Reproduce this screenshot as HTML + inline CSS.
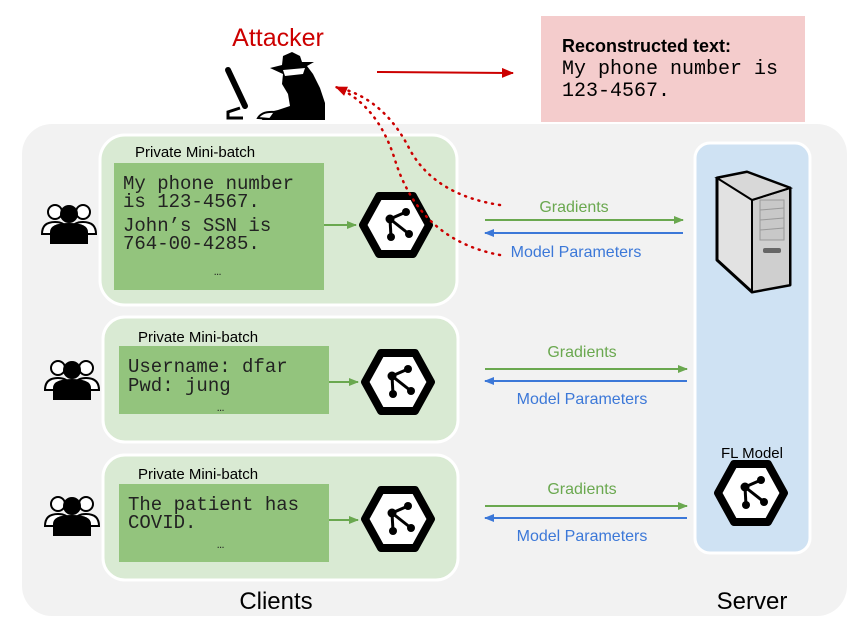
<!DOCTYPE html>
<html><head><meta charset="utf-8"><style>
html,body{margin:0;padding:0;background:#fff;}
svg{display:block;font-family:"Liberation Sans",sans-serif;}
.mono{font-family:"Liberation Mono",monospace;}
</style></head><body>
<svg width="847" height="622" viewBox="0 0 847 622" xmlns="http://www.w3.org/2000/svg">
<defs>
<marker id="ag" markerWidth="10" markerHeight="8" refX="9" refY="4" orient="auto" markerUnits="userSpaceOnUse"><path d="M0,0 L10,4 L0,8z" fill="#6aa84f"/></marker>
<marker id="ab" markerWidth="10" markerHeight="8" refX="9" refY="4" orient="auto" markerUnits="userSpaceOnUse"><path d="M0,0 L10,4 L0,8z" fill="#3c78d8"/></marker>
<marker id="ar" markerWidth="12" markerHeight="10" refX="11" refY="5" orient="auto" markerUnits="userSpaceOnUse"><path d="M0,0 L12,5 L0,10z" fill="#cc0000"/></marker>
<g id="hex">
<polygon points="-33,0 -17,-29 17,-29 33,0 17,29 -17,29" fill="#fff" stroke="#000" stroke-width="8" stroke-linejoin="round"/>
<line x1="-6" y1="-6" x2="10" y2="-13" stroke="#000" stroke-width="3"/>
<line x1="-6" y1="-6" x2="-5" y2="12" stroke="#000" stroke-width="3"/>
<line x1="-6" y1="-6" x2="13" y2="9" stroke="#000" stroke-width="3"/>
<circle cx="-6" cy="-6" r="4.5"/><circle cx="10" cy="-13" r="4"/><circle cx="-5" cy="12" r="4"/><circle cx="13" cy="9" r="4"/>
</g>
<g id="users">
<circle cx="-14" cy="-12" r="7" fill="#fff" stroke="#000" stroke-width="2"/>
<circle cx="14" cy="-12" r="7" fill="#fff" stroke="#000" stroke-width="2"/>
<path d="M-27,10 Q-27,-2 -14,-2 Q-5,-2 -3,4 L-3,10z" fill="#fff" stroke="#000" stroke-width="2"/>
<path d="M27,10 Q27,-2 14,-2 Q5,-2 3,4 L3,10z" fill="#fff" stroke="#000" stroke-width="2"/>
<circle cx="0" cy="-10" r="9"/>
<path d="M-19,20 L-19,8 Q-19,-1 0,-1 Q19,-1 19,8 L19,20z"/>
</g>
</defs>
<rect x="22" y="124" width="825" height="492" rx="30" fill="#f2f2f2"/>
<!-- reconstructed -->
<rect x="541" y="16" width="264" height="106" fill="#f4cccc"/>
<text x="562" y="52" font-size="18" font-weight="bold">Reconstructed text:</text>
<text class="mono" x="562" y="74" font-size="20">My phone number is</text>
<text class="mono" x="562" y="96" font-size="20">123-4567.</text>
<line x1="377" y1="72" x2="513" y2="73" stroke="#cc0000" stroke-width="2" marker-end="url(#ar)"/>
<text x="278" y="46" font-size="25" fill="#cc0000" text-anchor="middle">Attacker</text>
<!-- attacker icon -->
<g>
<line x1="228" y1="70" x2="245" y2="106" stroke="#000" stroke-width="6" stroke-linecap="round"/>
<path d="M240,108 L228,112 L228,118 L243,118" fill="none" stroke="#000" stroke-width="3"/>
<path d="M270,68 L282,65 L283,56 L292,52 L300,56 L302,62 L314,62 L307,66 L313,74 L320,88 L325,103 L325,120 L262,120 L265,113 L278,110 L290,106 L288,94 L282,84 L283,74z" fill="#000"/>
<path d="M283,70 L305,68 L303,74 L285,76z" fill="#fff"/>
<path d="M258,118 Q262,111 275,112 L270,119z" fill="#fff" stroke="#000" stroke-width="2"/>
</g>
<!-- client boxes -->
<rect x="100" y="135" width="357" height="170" rx="25" fill="#d9ead3" stroke="#fff" stroke-width="3"/>
<rect x="103" y="317" width="355" height="125" rx="22" fill="#d9ead3" stroke="#fff" stroke-width="3"/>
<rect x="103" y="455" width="355" height="125" rx="22" fill="#d9ead3" stroke="#fff" stroke-width="3"/>
<text x="135" y="157" font-size="15">Private Mini-batch</text>
<text x="138" y="342" font-size="15">Private Mini-batch</text>
<text x="138" y="479" font-size="15">Private Mini-batch</text>
<rect x="114" y="163" width="210" height="127" fill="#93c47d"/>
<rect x="119" y="346" width="210" height="68" fill="#93c47d"/>
<rect x="119" y="484" width="210" height="78" fill="#93c47d"/>
<g class="mono" font-size="19" fill="#222">
<text x="123" y="189">My phone number</text>
<text x="123" y="207">is 123-4567.</text>
<text x="123" y="231">John’s SSN is</text>
<text x="123" y="249">764-00-4285.</text>
<text x="214" y="275" font-size="12">…</text>
<text x="128" y="372">Username: dfar</text>
<text x="128" y="391">Pwd: jung</text>
<text x="217" y="411" font-size="12">…</text>
<text x="128" y="510">The patient has</text>
<text x="128" y="528">COVID.</text>
<text x="217" y="548" font-size="12">…</text>
</g>
<line x1="324" y1="225" x2="356" y2="225" stroke="#6aa84f" stroke-width="2" marker-end="url(#ag)"/>
<line x1="329" y1="382" x2="358" y2="382" stroke="#6aa84f" stroke-width="2" marker-end="url(#ag)"/>
<line x1="329" y1="520" x2="358" y2="520" stroke="#6aa84f" stroke-width="2" marker-end="url(#ag)"/>
<use href="#hex" x="396" y="225"/>
<use href="#hex" x="398" y="382"/>
<use href="#hex" x="398" y="519"/>
<use href="#users" x="69" y="224"/>
<use href="#users" x="72" y="380"/>
<use href="#users" x="72" y="516"/>
<!-- red dotted -->
<path d="M500,205 Q435,195 410,150 Q385,100 340,88" fill="none" stroke="#cc0000" stroke-width="2.5" stroke-dasharray="1 6" stroke-linecap="round"/>
<path d="M500,255 Q420,240 395,160 Q378,105 336,87" fill="none" stroke="#cc0000" stroke-width="2.5" stroke-dasharray="1 6" stroke-linecap="round" marker-end="url(#ar)"/>
<!-- server -->
<rect x="695" y="143" width="115" height="410" rx="15" fill="#cfe2f3" stroke="#fff" stroke-width="3"/>
<path d="M717,178 L747,172 L790,188 L790,285 L752,292 L717,260z" fill="#e2e2e2" stroke="#000" stroke-width="3" stroke-linejoin="round"/>
<path d="M752,200 L790,188 L790,285 L752,292z" fill="#cfcfcf" stroke="#000" stroke-width="2"/>
<path d="M717,178 L747,172 L790,188 L752,200z" fill="#d8d8d8" stroke="#000" stroke-width="2"/>
<rect x="760" y="200" width="24" height="40" fill="#c8c8c8" stroke="#999" stroke-width="1"/>
<line x1="760" y1="210" x2="784" y2="208" stroke="#999"/><line x1="760" y1="220" x2="784" y2="218" stroke="#999"/><line x1="760" y1="230" x2="784" y2="228" stroke="#999"/>
<rect x="763" y="248" width="18" height="5" rx="2" fill="#666"/>
<text x="752" y="458" font-size="15" text-anchor="middle">FL Model</text>
<use href="#hex" x="751" y="493"/>
<!-- arrows -->
<g font-size="16">
<line x1="485" y1="220" x2="683" y2="220" stroke="#6aa84f" stroke-width="2" marker-end="url(#ag)"/>
<line x1="683" y1="233" x2="485" y2="233" stroke="#3c78d8" stroke-width="2" marker-end="url(#ab)"/>
<text x="574" y="212" fill="#6aa84f" text-anchor="middle">Gradients</text>
<text x="576" y="257" fill="#3c78d8" text-anchor="middle">Model Parameters</text>
<line x1="485" y1="369" x2="687" y2="369" stroke="#6aa84f" stroke-width="2" marker-end="url(#ag)"/>
<line x1="687" y1="381" x2="485" y2="381" stroke="#3c78d8" stroke-width="2" marker-end="url(#ab)"/>
<text x="582" y="357" fill="#6aa84f" text-anchor="middle">Gradients</text>
<text x="582" y="404" fill="#3c78d8" text-anchor="middle">Model Parameters</text>
<line x1="485" y1="506" x2="687" y2="506" stroke="#6aa84f" stroke-width="2" marker-end="url(#ag)"/>
<line x1="687" y1="518" x2="485" y2="518" stroke="#3c78d8" stroke-width="2" marker-end="url(#ab)"/>
<text x="582" y="494" fill="#6aa84f" text-anchor="middle">Gradients</text>
<text x="582" y="541" fill="#3c78d8" text-anchor="middle">Model Parameters</text>
</g>
<text x="276" y="609" font-size="24" text-anchor="middle">Clients</text>
<text x="752" y="609" font-size="24" text-anchor="middle">Server</text>
</svg>
</body></html>
